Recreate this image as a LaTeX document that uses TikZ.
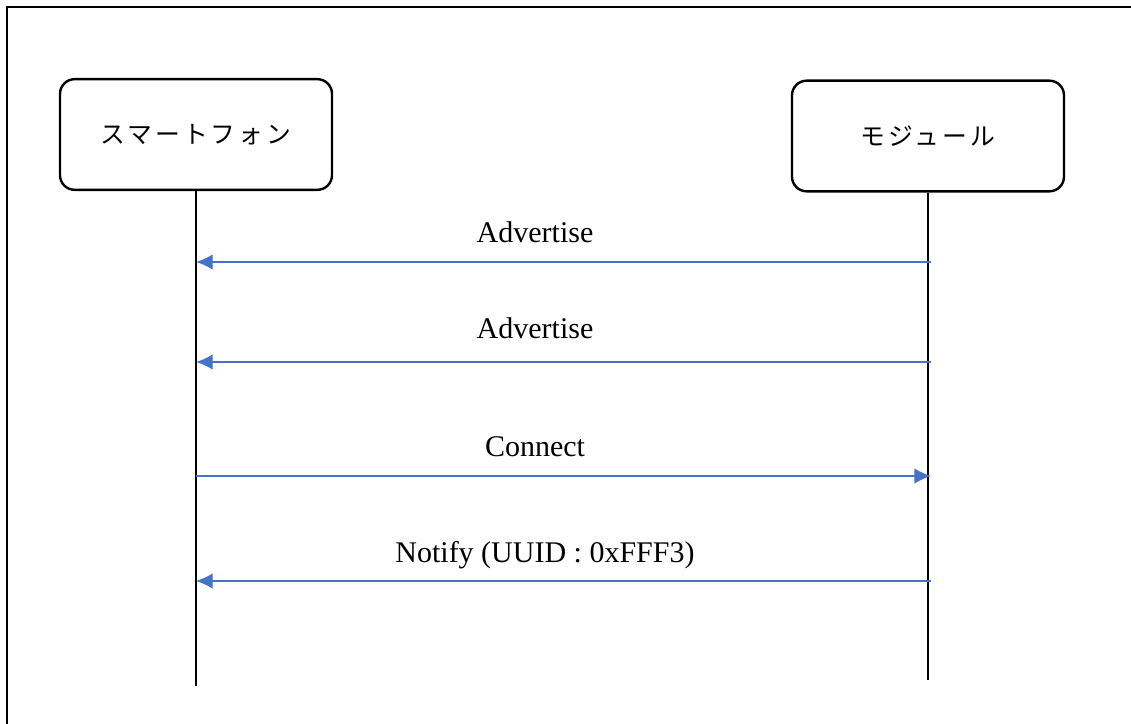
\documentclass[tikz,border=0pt]{standalone}
\usepackage{fontspec}
\setmainfont{Liberation Serif}
\newfontfamily\jpfont[LetterSpace=12]{Noto Sans CJK JP}
\usetikzlibrary{arrows.meta}

\definecolor{msgblue}{HTML}{4472C4}

\begin{document}
\begin{tikzpicture}[x=0.75pt,y=-0.75pt,
    lifebox/.style={draw,line width=1.8pt,rounded corners=11pt,
      minimum width=204pt,minimum height=83pt,font=\jpfont\fontsize{18.6}{22}\selectfont},
    lifeline/.style={line width=0.8pt},
    msg/.style={draw=msgblue,line width=0.9pt,-{Latex[length=12.5pt,width=11.5pt]}},
    msglabel/.style={anchor=base,font=\fontsize{22.5}{27}\selectfont}]
        % Parametry
        \def\xp{196}      % x telefonu
        \def\xm{928}      % x modulu
        \def\lx{535}      % x popisku

        % Rámeček
        \useasboundingbox (0,0) rectangle (1131,724);
        \draw[line width=1.6pt] (7,7) rectangle (1150,750);

        % Účastníci
        \node[lifebox] (phone) at (\xp,134.5) {スマートフォン};
        \node[lifebox] (module) at (\xm,136) {モジュール};

        % Čáry života
        \coordinate (phoneend) at (\xp,686);
        \coordinate (moduleend) at (\xm,680);
        \draw[lifeline] (phone.south) -- (phoneend);
        \draw[lifeline] (module.south) -- (moduleend);

        % Zprávy
        \foreach \y/\name in {262/adv1,362/adv2,476/conn,581/notif}{
          \coordinate (p-\name) at (\xp,\y);
          \coordinate (m-\name) at (\xm+3,\y);
        }
        \draw[msg] (m-adv1) -- (p-adv1);
        \draw[msg] (m-adv2) -- (p-adv2);
        \draw[msg] (p-conn) -- (m-conn);
        \draw[msg] (m-notif) -- (p-notif);

        % Popisky
        \node[msglabel] (ladv1) at (\lx,242) {Advertise};
        \node[msglabel] (ladv2) at (\lx,338) {Advertise};
        \node[msglabel] (lconn) at (\lx,456) {Connect};
        \node[msglabel] (lnotif) at (545,562) {Notify (UUID : 0xFFF3)};
      \end{tikzpicture}
\end{document}
